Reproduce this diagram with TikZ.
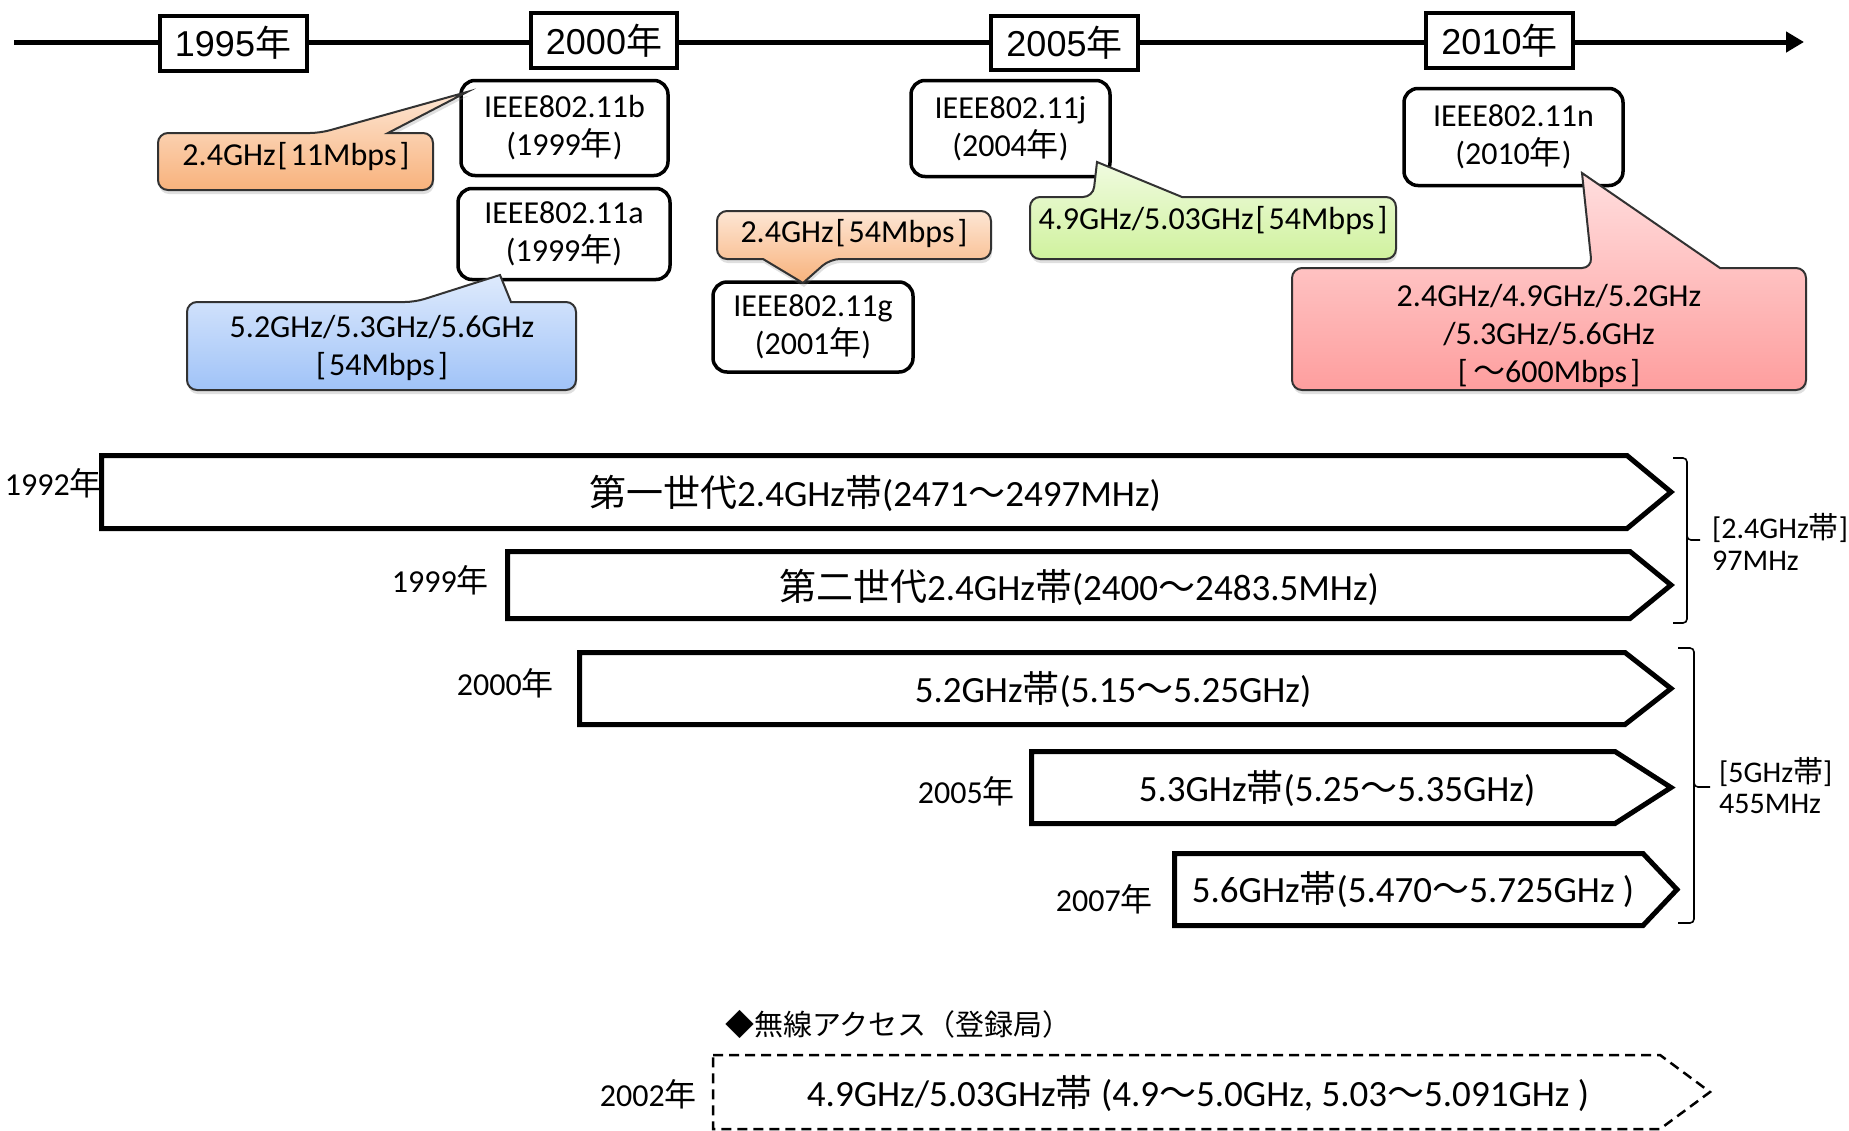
\documentclass[tikz,border=0pt]{standalone}
\usepackage{fontspec}
\setmainfont{Carlito}
\newfontfamily\jp{Noto Sans CJK JP}
\newfontfamily\arialf{Liberation Sans}
\usetikzlibrary{arrows.meta,shadows}
\newcommand\J[1]{{\jp #1}}
\newcommand\LB{\hspace{0.06em}{[}\hspace{0.1em}}
\newcommand\RB{\hspace{0.1em}{]}}
\newcommand\fs[2]{\fontsize{#1pt}{#2pt}\selectfont}
\definecolor{orT}{RGB}{253,230,212}
\definecolor{orB}{RGB}{248,178,124}
\definecolor{blT}{RGB}{222,234,252}
\definecolor{blB}{RGB}{160,195,248}
\definecolor{grT}{RGB}{240,251,224}
\definecolor{grB}{RGB}{208,242,158}
\definecolor{pkT}{RGB}{255,222,222}
\definecolor{pkB}{RGB}{254,158,158}
\definecolor{cborder}{RGB}{50,50,50}
\begin{document}
\begin{tikzpicture}[x=1pt,y=-1pt,
  yearbox/.style={draw, line width=4pt, fill=white, inner sep=0pt, font=\arialf\fs{36}{40}},
  ieee/.style={draw, line width=3.5pt, rounded corners=14pt, fill=white, inner sep=0pt, align=center, font=\fs{32}{38}},
  callout/.style={draw=cborder, line width=2pt, rounded corners=10pt, drop shadow={opacity=0.25, shadow xshift=1pt, shadow yshift=-4pt}},
  ctext/.style={align=center, inner sep=0pt, font=\fs{32}{38}},
  band/.style={draw, line width=5pt, fill=white, line join=miter},
  btext/.style={inner sep=0pt, font=\fs{37}{40}},
  ylab/.style={inner sep=0pt, anchor=east, font=\fs{32}{34}},
  brk/.style={draw, line width=1.6pt, rounded corners=4pt},
  blab/.style={inner sep=0pt, anchor=base west, font=\fs{30}{32}}
]
\useasboundingbox (0,0) rectangle (1849,1130);

% timeline
\coordinate (tls) at (14,42);
\coordinate (tle) at (1804,42);
\draw[line width=5pt, -{Triangle[length=18pt,width=20pt]}] (tls) -- (tle);
\node[yearbox, minimum width=147pt, minimum height=55pt] (y1995) at (233,43) {1995\J{年}};
\node[yearbox, minimum width=146pt, minimum height=55pt] (y2000) at (604,40.5) {2000\J{年}};
\node[yearbox, minimum width=147pt, minimum height=54pt] (y2005) at (1064.5,43) {2005\J{年}};
\node[yearbox, minimum width=147pt, minimum height=55pt] (y2010) at (1499.5,40.5) {2010\J{年}};

% IEEE boxes
\node[ieee, minimum width=207pt, minimum height=95pt] (b11b) at (564.5,128) {IEEE802.11b\\(1999\J{年})};
\node[ieee, minimum width=212pt, minimum height=91pt] (b11a) at (564,234) {IEEE802.11a\\(1999\J{年})};
\node[ieee, minimum width=200pt, minimum height=90pt] (b11g) at (813,327) {IEEE802.11g\\(2001\J{年})};
\node[ieee, minimum width=199pt, minimum height=96pt] (b11j) at (1010.5,128.5) {IEEE802.11j\\(2004\J{年})};
\node[ieee, minimum width=219pt, minimum height=97pt] (b11n) at (1513.5,137) {IEEE802.11n\\(2010\J{年})};

% callouts
\path[callout, top color=orT, bottom color=orB]
  (158,190) -- (158,133) -- (320,133) [sharp corners] -- (467,92) -- (388,133) [rounded corners=10pt] -- (433,133) -- (433,190) -- cycle;
\node[ctext] (c11b) at (296,157) {2.4GHz\LB 11Mbps\RB};

\path[callout, top color=blT, bottom color=blB]
  (187,390) -- (187,302) -- (415,302) [sharp corners] -- (500,275) -- (511,302) [rounded corners=10pt] -- (576,302) -- (576,390) -- cycle;
\node[ctext] (c11a) at (382,348) {5.2GHz/5.3GHz/5.6GHz\\{[}\hspace{0.1em}54Mbps\RB};

\path[callout, top color=orT, bottom color=orB]
  (717,259) -- (717,211) -- (991,211) -- (991,259) -- (830,259) [sharp corners] -- (803,283) -- (763,259) [rounded corners=10pt] -- cycle;
\node[ctext] (c11g) at (854,234) {2.4GHz\LB 54Mbps\RB};

\path[callout, top color=grT, bottom color=grB]
  (1030,259) -- (1030,197) -- (1093,197) [sharp corners] -- (1097,162) -- (1182,197) [rounded corners=10pt] -- (1396,197) -- (1396,259) -- cycle;
\node[ctext] (c11j) at (1213,221) {4.9GHz/5.03GHz\LB 54Mbps\RB};

\path[callout, top color=pkT, bottom color=pkB]
  (1292,390) -- (1292,268) -- (1592,268) [sharp corners] -- (1582,173) -- (1720,268) [rounded corners=10pt] -- (1806,268) -- (1806,390) -- cycle;
\node[ctext] (c11n) at (1549,336) {2.4GHz/4.9GHz/5.2GHz\\/5.3GHz/5.6GHz\\{[}\,\J{～}600Mbps\RB};

% bands
\draw[band] (101.5,455.5) -- (1627,455.5) -- (1671,492) -- (1627,528.5) -- (101.5,528.5) -- cycle;
\node[btext] (t1) at (875,493) {\J{第一世代}2.4GHz\J{帯}(2471\J{～}2497MHz)};
\node[ylab] (l1) at (102,483) {1992\J{年}};

\draw[band] (507.5,551.5) -- (1630,551.5) -- (1671,585) -- (1630,618.5) -- (507.5,618.5) -- cycle;
\node[btext] (t2) at (1079,587) {\J{第二世代}2.4GHz\J{帯}(2400\J{～}2483.5MHz)};
\node[ylab] (l2) at (489,580) {1999\J{年}};

\draw[band] (579.5,652.5) -- (1625,652.5) -- (1671,688.5) -- (1625,724.5) -- (579.5,724.5) -- cycle;
\node[btext] (t3) at (1113,690) {5.2GHz\J{帯}(5.15\J{～}5.25GHz)};
\node[ylab] (l3) at (554,683) {2000\J{年}};

\draw[band] (1031.5,751.5) -- (1615,751.5) -- (1671,787.5) -- (1615,823.5) -- (1031.5,823.5) -- cycle;
\node[btext] (t4) at (1337,789) {5.3GHz\J{帯}(5.25\J{～}5.35GHz)};
\node[ylab] (l4) at (1015,791) {2005\J{年}};

\draw[band] (1174.5,853.5) -- (1643,853.5) -- (1677,889.5) -- (1643,925.5) -- (1174.5,925.5) -- cycle;
\node[btext] (t5) at (1413,890) {5.6GHz\J{帯}(5.470\J{～}5.725GHz )};
\node[ylab] (l5) at (1153,899) {2007\J{年}};

% brackets
\draw[brk] (1673,458) -| (1687,540) -- (1700,540);
\draw[brk] (1687,535) |- (1673,623);
\node[blab] (k1) at (1712,538) {[2.4GHz\J{帯}]};
\node[blab] (k2) at (1712,570) {97MHz};

\draw[brk] (1678,648) -| (1694,787) -- (1710,787);
\draw[brk] (1694,782) |- (1678,923);
\node[blab] (k3) at (1719,782) {[5GHz\J{帯}]};
\node[blab] (k4) at (1719,813) {455MHz};

% bottom
\node[inner sep=0pt, anchor=base west, font=\jp\fs{29}{32}] (ra) at (725,1035) {◆無線アクセス（登録局）};
\draw[line width=2.5pt, dash pattern=on 10pt off 6pt] (713,1055) -- (1660,1055) -- (1710,1092) -- (1660,1129) -- (713,1129) -- cycle;
\node[btext] (t6) at (1198,1094) {4.9GHz/5.03GHz\J{帯} (4.9\J{～}5.0GHz, 5.03\J{～}5.091GHz )};
\node[ylab] (l6) at (697,1094) {2002\J{年}};
\end{tikzpicture}
\end{document}
